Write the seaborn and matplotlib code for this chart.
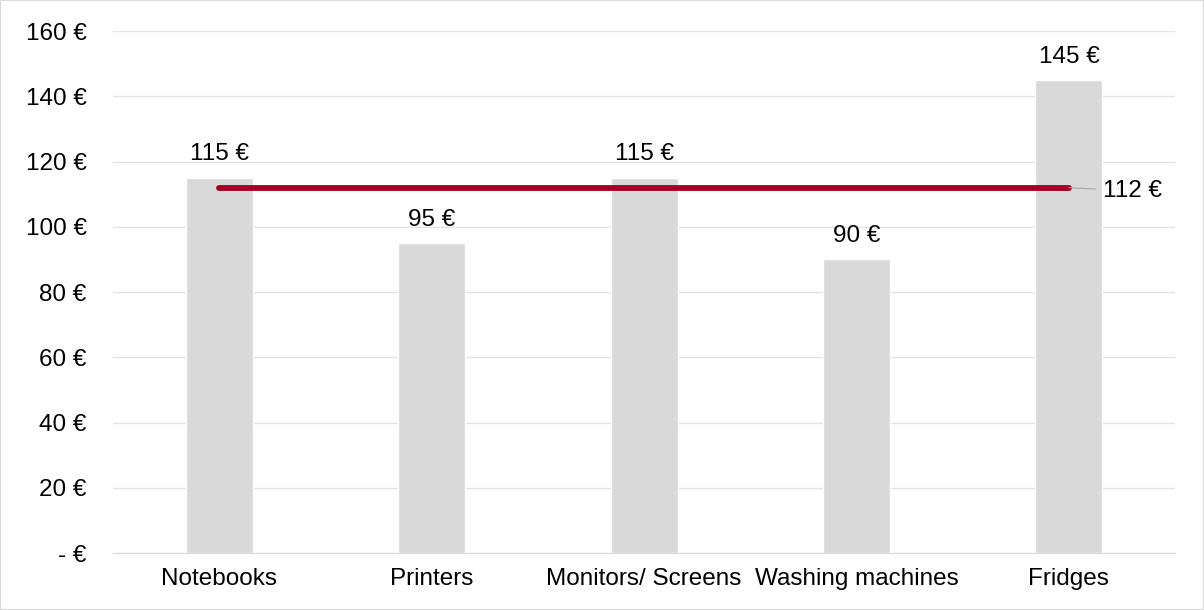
import pandas as pd
import seaborn as sns
import matplotlib.pyplot as plt
import matplotlib.ticker as ticker

categories = ['Notebooks', 'Printers', 'Monitors/ Screens', 'Washing machines', 'Fridges']
prices = [115, 95, 115, 90, 145]
average = 112
yticks = [0, 20, 40, 60, 80, 100, 120, 140, 160]

df = pd.DataFrame({'category': categories, 'price': prices})

sns.set_style('white')
plt.rcParams['font.family'] = ['Liberation Sans', 'DejaVu Sans']
FS = 17.5

fig = plt.figure(figsize=(12.04, 6.10), dpi=100)
ax = fig.add_axes([0.0939, 0.0934, 0.8821, 0.8556])

sns.barplot(data=df, x='category', y='price', color='#D9D9D9', width=0.316,
            saturation=1, ax=ax, zorder=2)

# average line from first to last category
ax.plot([0, len(categories) - 1], [average, average], color='#A50021',
        linewidth=4.2, solid_capstyle='round', zorder=3)
ax.annotate(f'{average} €', xy=(len(categories) - 1, average),
            xytext=(1103, 610 - 191), textcoords='figure pixels', fontsize=FS,
            va='center', ha='left', color='black',
            arrowprops=dict(arrowstyle='-', color='#A6A6A6', lw=0.8,
                            shrinkA=3, shrinkB=0))

for i, v in enumerate(prices):
    ax.annotate(f'{v} €', xy=(i, v), xytext=(0, 9), textcoords='offset points',
                ha='center', va='bottom', fontsize=FS, color='black')

ax.set_ylim(0, 160)
ax.set_xlim(-0.5, len(categories) - 0.5)
ax.set_yticks(yticks)
ax.yaxis.set_major_formatter(ticker.FuncFormatter(lambda v, p: '- €' if v == 0 else f'{v:.0f} €'))
ax.grid(axis='y', color='#E3E3E3', linewidth=1, zorder=0)
ax.set_axisbelow(True)
ax.set_xlabel('')
ax.set_ylabel('')
ax.tick_params(axis='y', length=0, pad=19, labelsize=FS, labelcolor='black')
ax.tick_params(axis='x', length=0, pad=11, labelsize=FS, labelcolor='black')
for s in ['top', 'right', 'left']:
    ax.spines[s].set_visible(False)
ax.spines['bottom'].set_color('#D9D9D9')

fig.patches.append(plt.Rectangle((0, 0), 1, 1, transform=fig.transFigure,
                                 fill=False, edgecolor='#D9D9D9', linewidth=1.5))

fig.savefig('out.png', dpi=100)
